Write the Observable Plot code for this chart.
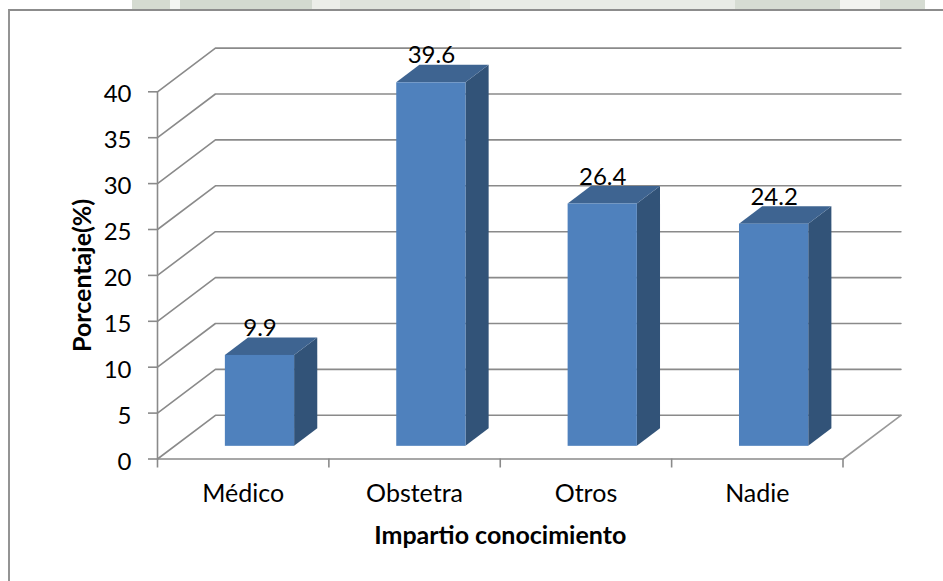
<!DOCTYPE html>
<html lang="es">
<head>
<meta charset="utf-8">
<title>Impartio conocimiento</title>
<script src="https://cdn.jsdelivr.net/npm/d3@7"></script>
<script src="https://cdn.jsdelivr.net/npm/@observablehq/plot@0.6"></script>
<style>
  html, body { margin: 0; padding: 0; background: #fff; }
  #page { position: relative; width: 943px; height: 581px; overflow: hidden; }
  /* pale crest showing above the chart panel */
  #crest {
    position: absolute; left: 0; top: 0; width: 943px; height: 9px;
    background: linear-gradient(90deg,
      #fff 0 132px, #d5dbd1 132px 170px, #f4f5f2 170px 180px, #d3dad0 180px 312px,
      #eceee9 312px 340px, #dfe3dc 340px 470px, #e8ebe6 470px 735px, #d6dcd3 735px 840px,
      #f2f3f0 840px 880px, #d6dcd3 880px 925px, #fff 925px);
  }
  #panel {
    position: absolute; left: 8px; top: 9px; width: 960px; height: 600px;
    border-left: 2px solid #949494; border-top: 2px solid #8c8c8c; background: #fff;
  }
  #chart { position: absolute; left: 0; top: 0; }
  #chart svg { background: transparent; display: block; }
</style>
</head>
<body>
<div id="page">
  <div id="crest"></div>
  <div id="panel"></div>
  <div id="chart"></div>
</div>
<script>
const categories = ["Médico", "Obstetra", "Otros", "Nadie"];
const values = [9.9, 39.6, 26.4, 24.2];
const yTicks = [0, 5, 10, 15, 20, 25, 30, 35, 40];
const boundaryTicks = [0, 1, 2, 3, 4];

// Oblique projection: depth 0 is the front of the floor, depth 1 the back wall.
const depthX = 0.338;   // category widths per unit of depth
const depthY = 4.76;    // percentage points per unit of depth
const px = (x, z) => x + z * depthX;
const py = (y, z) => y + z * depthY;

// Each bar fills the middle of its category, front to back.
const barInset = 0.298;
const barFront = 0.29;
const barBack = 0.69;

const bars = values.map((v, i) => ({
  name: categories[i],
  value: v,
  left: i + barInset,
  right: i + 1 - barInset
}));

const grey = "#8a8a8a";

// Back wall and side wall gridlines share one polyline per tick.
const gridPaths = yTicks.flatMap((t) => [
  {t, x: px(0, 0), y: py(t, 0)},
  {t, x: px(0, 1), y: py(t, 1)},
  {t, x: px(4, 1), y: py(t, 1)}
]);

// Right edge of the floor.
const floorEdge = [
  {x: px(4, 0), y: py(0, 0)},
  {x: px(4, 1), y: py(0, 1)}
];

const sideFaces = bars.flatMap((b) => [barFront, barBack].map((z) => ({
  name: b.name,
  x: px(b.right, z),
  y1: py(0, z),
  y2: py(b.value, z)
})));

const topFaces = bars.flatMap((b) => [barFront, barBack].map((z) => ({
  name: b.name,
  y: py(b.value, z),
  x1: px(b.left, z),
  x2: px(b.right, z)
})));

const labelFont = "Lato, 'Open Sans', sans-serif";

const chart = Plot.plot({
  width: 943,
  height: 581,
  marginLeft: 157,
  marginRight: 100.5,
  marginTop: 91.3,
  marginBottom: 122.5,
  style: {fontFamily: labelFont, color: "#000", background: "transparent", overflow: "visible"},
  x: {domain: [0, 4]},
  y: {domain: [0, 40]},
  marks: [
    Plot.line(gridPaths, {x: "x", y: "y", z: "t", stroke: grey, strokeWidth: 1.6}),
    Plot.line(floorEdge, {x: "x", y: "y", stroke: "#999", strokeWidth: 1.6}),
    Plot.ruleY([0], {stroke: grey, strokeWidth: 1.6}),
    Plot.ruleX([0], {y1: 0, y2: 40, stroke: grey, strokeWidth: 1.6}),

    // Tick marks and value labels on the vertical axis
    Plot.axisY({ticks: yTicks, tickSize: 9, stroke: grey, strokeWidth: 1.6, fill: "none", label: null}),
    Plot.axisY({
      ticks: yTicks, tickSize: 0, tickPadding: 26, dy: 3,
      fontSize: 24, label: null, tickFormat: (d) => String(d)
    }),
    Plot.axisY({
      ticks: [], label: "Porcentaje(%)", labelAnchor: "center", labelArrow: "none",
      labelOffset: 84, fontSize: 25, fontWeight: "bold"
    }),

    // Tick marks at the category boundaries, names at the category centres
    Plot.axisX({ticks: boundaryTicks, tickSize: 9, stroke: grey, strokeWidth: 1.6, fill: "none", label: null}),
    Plot.axisX({
      ticks: categories.map((_, i) => i + 0.5), tickSize: 0, tickPadding: 25,
      tickFormat: (d) => categories[d - 0.5], fontSize: 25, label: null
    }),
    Plot.axisX({
      ticks: [], label: "Impartio conocimiento", labelAnchor: "center", labelArrow: "none",
      labelOffset: 85, fontSize: 25, fontWeight: "bold"
    }),

    // Bars: side, top, front
    Plot.areaY(sideFaces, {x: "x", y1: "y1", y2: "y2", z: "name", fill: "#325378"}),
    Plot.areaX(topFaces, {y: "y", x1: "x1", x2: "x2", z: "name", fill: "#3e6491"}),
    Plot.rect(bars, {
      x1: (d) => px(d.left, barFront), x2: (d) => px(d.right, barFront),
      y1: () => py(0, barFront), y2: (d) => py(d.value, barFront),
      fill: "#4f81bd"
    }),

    Plot.text(bars, {
      x: (d) => px((d.left + d.right) / 2, barFront),
      y: (d) => py(d.value, barFront),
      text: (d) => String(d.value),
      dy: -27, fontSize: 24, fill: "#000", textAnchor: "middle"
    })
  ]
});

document.getElementById("chart").append(chart);
</script>
</body>
</html>
